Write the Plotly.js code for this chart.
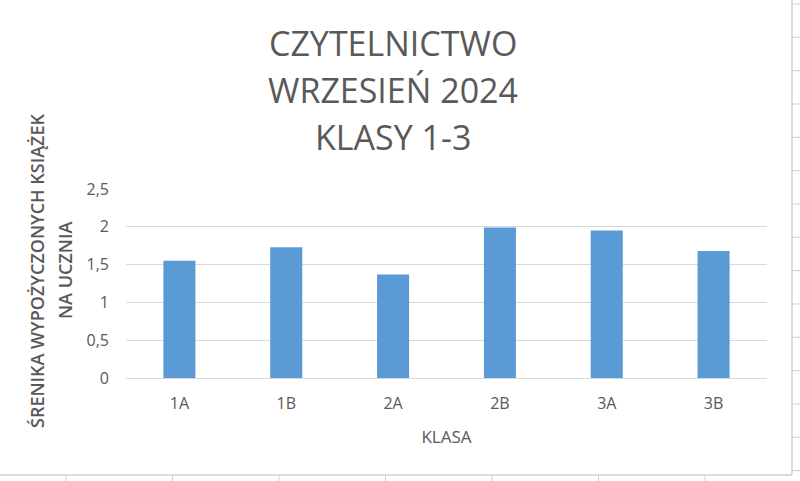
<!DOCTYPE html>
<html>
<head>
<meta charset="utf-8">
<script src="https://cdn.plot.ly/plotly-3.0.1.min.js"></script>
<style>
  html, body { margin: 0; padding: 0; background: #fff; }
  #chart { width: 800px; height: 481px; }
</style>
</head>
<body>
<div id="chart"></div>
<script>
"use strict";

// data
const classes = ["1A", "1B", "2A", "2B", "3A", "3B"];
const booksPerStudent = [1.55, 1.73, 1.37, 1.99, 1.95, 1.68];
const yTicks = [0, 0.5, 1, 1.5, 2, 2.5];
const titleLines = ["CZYTELNICTWO", "WRZESIEŃ 2024", "KLASY 1-3"];
const yTitleLines = ["ŚRENIKA WYPOŻYCZONYCH KSIĄŻEK", "NA UCZNIA"];
const xTitle = "KLASA";

const GREY = "#595959";
const FONT = "Open Sans";

// plot box in pixels, used to turn page pixels into paper coords
const box = {l: 126, r: 767, t: 189, b: 378};
function px(x) { return (x - box.l) / (box.r - box.l); }
function py(y) { return (box.b - y) / (box.b - box.t); }

let trace = {
    x: classes,
    y: booksPerStudent,
    type: "bar",
    marker: {color: "#5B9BD5"},
    hoverinfo: "none"
};

let annotations = [];
let titleY = [43, 90, 137];
titleLines.forEach(function (line, i) {
    annotations.push({
        text: line, showarrow: false,
        xref: "paper", yref: "paper",
        x: px(393), y: py(titleY[i]),
        xanchor: "center", yanchor: "middle",
        font: {family: FONT, size: 34, color: GREY}
    });
});
let yTitleX = [37, 65];
yTitleLines.forEach(function (line, i) {
    annotations.push({
        text: line, showarrow: false, textangle: -90,
        xref: "paper", yref: "paper",
        x: px(yTitleX[i]), y: py(271),
        xanchor: "center", yanchor: "middle",
        font: {family: FONT, size: 18, weight: 600, color: GREY}
    });
});

// the spreadsheet cell borders around the chart
let shapes = [];
const lineGrey = "#d0d0d0";
shapes.push({type: "line", xref: "paper", yref: "paper",
    x0: px(792), x1: px(792), y0: py(0), y1: py(475),
    line: {color: lineGrey, width: 1.5}});
shapes.push({type: "line", xref: "paper", yref: "paper",
    x0: px(0), x1: px(792), y0: py(475), y1: py(475),
    line: {color: lineGrey, width: 1.5}});
for (let k = 0; k < 15; k++) {
    let y = 4 + k * 33.33;
    shapes.push({type: "line", xref: "paper", yref: "paper",
        x0: px(792), x1: px(800), y0: py(y), y1: py(y),
        line: {color: lineGrey, width: 1}});
}
for (let k = 0; k < 7; k++) {
    let x = 66 + k * 106.5;
    shapes.push({type: "line", xref: "paper", yref: "paper",
        x0: px(x), x1: px(x), y0: py(475), y1: py(481),
        line: {color: lineGrey, width: 1}});
}

let layout = {
    width: 800,
    height: 481,
    margin: {l: box.l, r: 800 - box.r, t: box.t, b: 481 - box.b, pad: 0},
    paper_bgcolor: "#ffffff",
    plot_bgcolor: "#ffffff",
    separators: ", ",
    showlegend: false,
    bargap: 0.7,
    font: {family: FONT, color: GREY},
    xaxis: {
        type: "category",
        showline: false,
        showgrid: false,
        ticks: "",
        ticklabelstandoff: 14,
        tickfont: {family: FONT, size: 16, color: GREY},
        title: {text: xTitle, standoff: 18, font: {family: FONT, size: 17, color: GREY}}
    },
    yaxis: {
        range: [0, 2.5],
        tickvals: yTicks,
        showgrid: true,
        gridcolor: "#d9d9d9",
        gridwidth: 1,
        zeroline: true,
        zerolinecolor: "#d9d9d9",
        zerolinewidth: 1,
        showline: false,
        ticks: "",
        ticklabelstandoff: 16,
        tickfont: {family: FONT, size: 16, color: GREY}
    },
    annotations: annotations,
    shapes: shapes
};

Plotly.newPlot("chart", [trace], layout, {displayModeBar: false, staticPlot: true});
</script>
</body>
</html>
